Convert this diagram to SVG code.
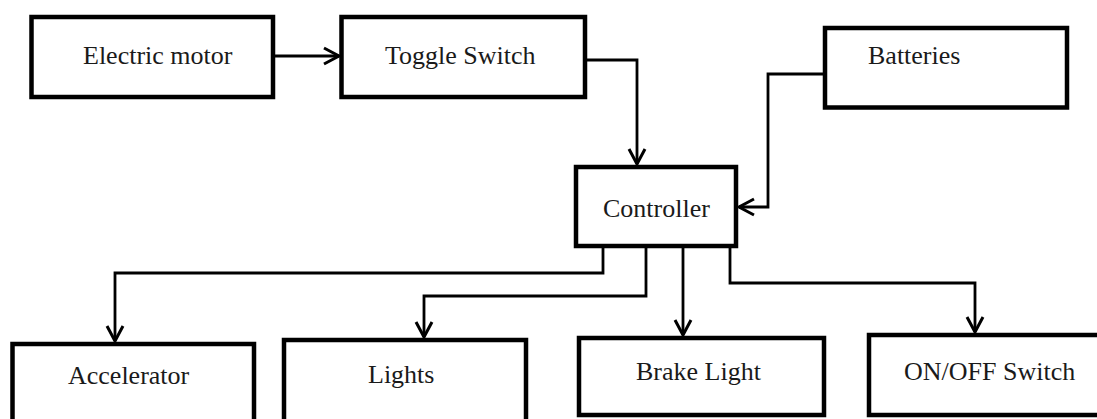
<svg xmlns="http://www.w3.org/2000/svg" width="1097" height="419" viewBox="0 0 1097 419">
<style>
  .box { fill: #ffffff; stroke: #000000; stroke-width: 4.5; }
  .lbl { font-family: "Liberation Serif", "Times New Roman", serif; font-size: 26px; fill: #1a1a1a; }
  .wire { fill: none; stroke: #000000; stroke-width: 2.8; stroke-linejoin: miter; marker-end: url(#arr); }
</style>
<defs>
  <marker id="arr" markerUnits="userSpaceOnUse" markerWidth="40" markerHeight="40" viewBox="-20 -20 40 40" refX="0" refY="0" orient="auto" overflow="visible">
    <path d="M -15 -8 L 0 0 L -15 8" fill="none" stroke="#000000" stroke-width="3"/>
  </marker>
</defs>
<rect width="1097" height="419" fill="#ffffff"/>

<g id="electric-motor">
  <rect class="box" x="31.5" y="17" width="241.5" height="80"/>
  <text class="lbl" x="83" y="64">Electric motor</text>
</g>
<g id="toggle-switch">
  <rect class="box" x="341.5" y="17" width="243.5" height="80"/>
  <text class="lbl" x="385" y="64">Toggle Switch</text>
</g>
<g id="batteries">
  <rect class="box" x="825" y="28" width="242" height="79.5"/>
  <text class="lbl" x="868" y="64">Batteries</text>
</g>
<g id="controller">
  <rect class="box" x="576" y="167" width="160" height="79"/>
  <text class="lbl" x="603" y="217">Controller</text>
</g>
<g id="accelerator">
  <rect class="box" x="12.5" y="344" width="241.5" height="100"/>
  <text class="lbl" x="68" y="384">Accelerator</text>
</g>
<g id="lights">
  <rect class="box" x="284" y="340" width="242" height="100"/>
  <text class="lbl" x="368" y="383">Lights</text>
</g>
<g id="brake-light">
  <rect class="box" x="579" y="338" width="245" height="77"/>
  <text class="lbl" x="636" y="380">Brake Light</text>
</g>
<g id="on-off-switch">
  <rect class="box" x="869" y="335" width="240" height="80"/>
  <text class="lbl" x="904" y="380">ON/OFF Switch</text>
</g>

<g id="connectors">
  <path class="wire" d="M 275 56 L 339 56"/>
  <path class="wire" d="M 587 60 L 637 60 L 637 164"/>
  <path class="wire" d="M 823 74 L 768 74 L 768 207 L 739 207"/>
  <path class="wire" d="M 603 248 L 603 273 L 115 273 L 115 341"/>
  <path class="wire" d="M 646 248 L 646 296 L 424 296 L 424 337"/>
  <path class="wire" d="M 683 248 L 683 335"/>
  <path class="wire" d="M 730 248 L 730 283 L 975 283 L 975 332"/>
</g>
</svg>
